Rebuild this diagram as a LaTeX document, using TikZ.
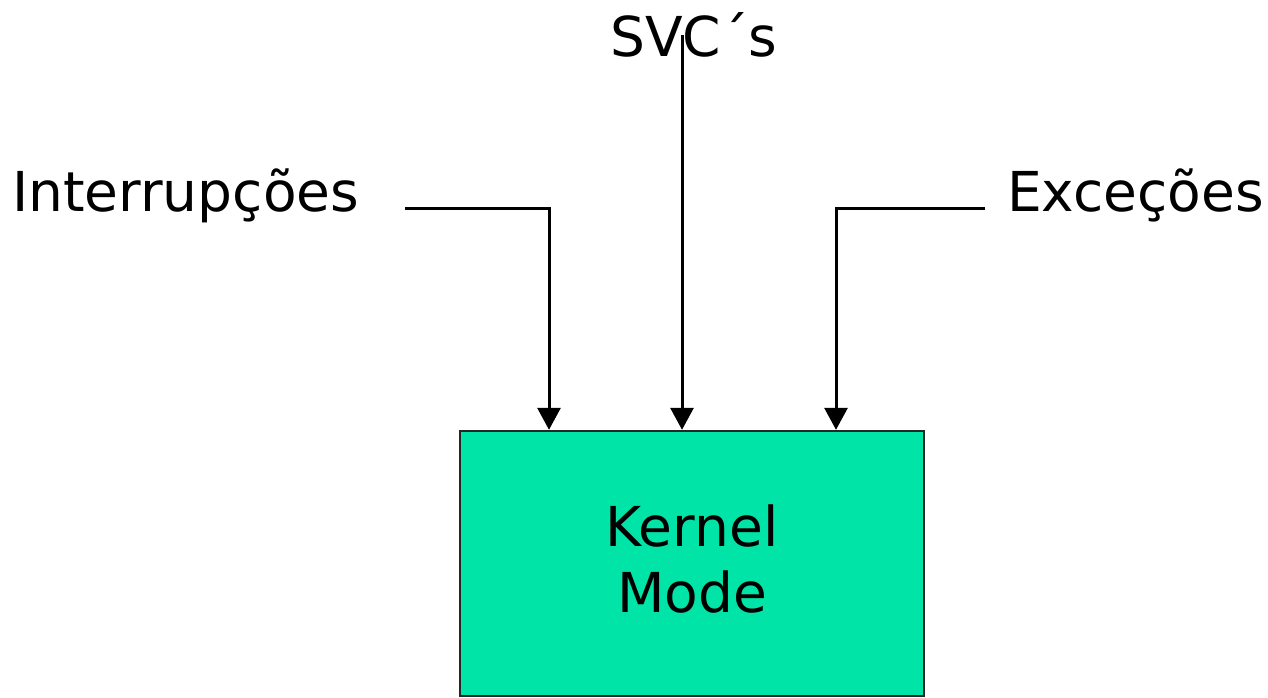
\documentclass[tikz,border=0pt]{standalone}
\usepackage{fontspec}
\setmainfont{DejaVu Sans}
\usepackage{xcolor}
\usetikzlibrary{arrows.meta}
\definecolor{kernelgreen}{RGB}{0,228,168}

\begin{document}
\begin{tikzpicture}[x=1pt,y=-1pt,
    label/.style={inner sep=0pt,font=\fontsize{55}{66}\selectfont},
    modebox/.style={draw=black!85,line width=2.4pt,fill=kernelgreen,
        minimum width=464pt,minimum height=265pt,align=center,
        text depth=10pt,font=\fontsize{55}{66}\selectfont},
    flow/.style={line width=3pt,-{Triangle[width=23pt,length=22pt]}}]
    \useasboundingbox (0,0) rectangle (1268,697);

    \node[modebox] (kernel) at (692,563.5) {Kernel\\Mode};

    \node[label,anchor=base west] (irq) at (12,211) {Interrupções};
    \node[label,anchor=base west] (svc) at (610,56) {SVC´s};
    \node[label,anchor=base west] (exc) at (1007,211) {Exceções};

    \coordinate (irqstart) at (405,208);
    \coordinate (irqturn) at (549,208);
    \coordinate (svcstart) at (682,35);
    \coordinate (excstart) at (985,208);
    \coordinate (excturn) at (836,208);

    \draw[flow] (irqstart) -- (irqturn) -- (irqturn |- kernel.north);
    \draw[flow] (svcstart) -- (svcstart |- kernel.north);
    \draw[flow] (excstart) -- (excturn) -- (excturn |- kernel.north);
\end{tikzpicture}
\end{document}
